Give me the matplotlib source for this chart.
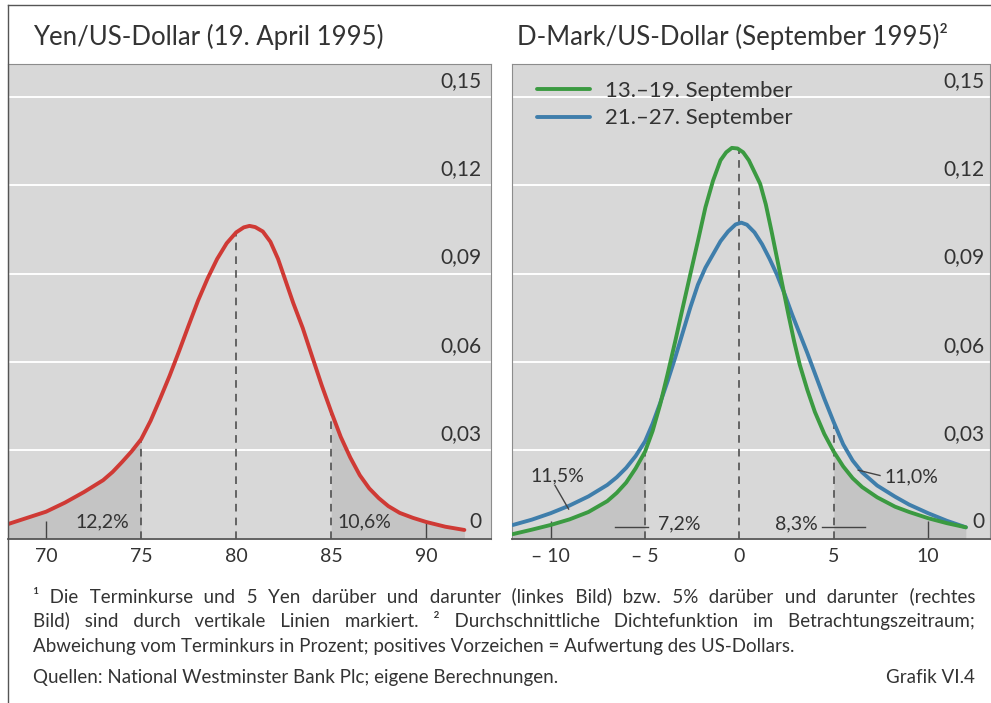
import numpy as np
import matplotlib.pyplot as plt
from matplotlib.lines import Line2D
from matplotlib.transforms import blended_transform_factory

plt.rcParams['font.family'] = ['Lato', 'DejaVu Sans']

# Yen/US-Dollar, Dichte
yen_x = np.array([68, 69, 70, 71, 72, 73, 73.5, 74, 74.5, 75, 75.5, 76, 76.5, 77, 77.5, 78,
                  78.5, 79, 79.5, 80, 80.4, 80.7, 81, 81.4, 81.8, 82.2, 82.6, 83, 83.5, 84,
                  84.5, 85, 85.5, 86, 86.5, 87, 87.5, 88, 88.6, 89.3, 90, 91, 92])
yen_d = np.array([0.0049, 0.0070, 0.0091, 0.0122, 0.0158, 0.0198, 0.0226, 0.0260, 0.0296,
                  0.0337, 0.0400, 0.0475, 0.0553, 0.0637, 0.0724, 0.0809, 0.0884, 0.0950,
                  0.1003, 0.1040, 0.1057, 0.1062, 0.1058, 0.1043, 0.1008, 0.0950, 0.0875,
                  0.0800, 0.0715, 0.0617, 0.0520, 0.0430, 0.0345, 0.0275, 0.0215, 0.0170,
                  0.0137, 0.0110, 0.0087, 0.0070, 0.0056, 0.0040, 0.0029])

# D-Mark/US-Dollar, Abweichung vom Terminkurs in %
sep1_x = np.array([-12, -11, -10, -9, -8, -7, -6.5, -6, -5.5, -5, -4.6, -4.2, -3.8, -3.4,
                   -3.0, -2.6, -2.2, -1.8, -1.4, -1.0, -0.7, -0.4, -0.1, 0.2, 0.5, 0.8,
                   1.1, 1.4, 1.7, 2.0, 2.3, 2.6, 2.9, 3.2, 3.6, 4.0, 4.5, 5.0, 5.5, 6.0,
                   6.5, 7.3, 8.25, 9, 10, 11, 12])
sep1_d = np.array([0.0015, 0.0030, 0.0046, 0.0065, 0.0090, 0.0127, 0.0155, 0.0190, 0.0238,
                   0.0295, 0.0365, 0.0455, 0.0560, 0.0670, 0.0785, 0.0898, 0.1010, 0.1125,
                   0.1215, 0.1285, 0.1312, 0.1327, 0.1325, 0.1312, 0.1285, 0.1245, 0.1205,
                   0.1135, 0.1045, 0.0950, 0.0855, 0.0760, 0.0670, 0.0590, 0.0505, 0.0430,
                   0.0355, 0.0295, 0.0245, 0.0205, 0.0175, 0.0140, 0.0108, 0.0090, 0.0069,
                   0.0052, 0.0038])
sep2_x = np.array([-12, -11, -10, -9, -8, -7, -6.5, -6, -5.5, -5, -4.6, -4.2, -3.8, -3.4,
                   -3.0, -2.6, -2.2, -1.8, -1.4, -1.0, -0.6, -0.2, 0.1, 0.4, 0.8, 1.2, 1.6,
                   2.0, 2.4, 2.8, 3.2, 3.6, 4.0, 4.5, 5.0, 5.5, 6.0, 6.5, 7.3, 8.25, 9, 10,
                   11, 12])
sep2_d = np.array([0.0046, 0.0064, 0.0086, 0.0112, 0.0143, 0.0182, 0.0208, 0.0240, 0.0280,
                   0.0330, 0.0390, 0.0460, 0.0535, 0.0615, 0.0700, 0.0785, 0.0862, 0.0920,
                   0.0965, 0.1010, 0.1043, 0.1067, 0.1073, 0.1066, 0.1040, 0.1000, 0.0950,
                   0.0895, 0.0830, 0.0760, 0.0695, 0.0630, 0.0561, 0.0475, 0.0395, 0.0320,
                   0.0265, 0.0225, 0.0180, 0.0142, 0.0115, 0.0086, 0.0060, 0.0038])

series_labels = ['13.\u201319. September', '21.\u201327. September']
y_ticks = [0, 0.03, 0.06, 0.09, 0.12, 0.15]
y_labels = ['0', '0,03', '0,06', '0,09', '0,12', '0,15']
yen_ticks = [70, 75, 80, 85, 90]
dm_ticks = [-10, -5, 0, 5, 10]
dm_ticklabels = ['\u2013 10', '\u2013 5', '0', '5', '10']
yen_marks = [75, 80, 85]
dm_marks = [-5, 0, 5]

RED = '#cf3a35'
GREEN = '#3b9a41'
BLUE = '#3f7eab'
TXT = '#333333'
BG = '#d8d8d8'
SHADE = '#c4c4c4'

W, H = 991, 703
fig = plt.figure(figsize=(W / 100, H / 100), dpi=100)


def fx(px):
    return px / W


def fy(py):
    return 1 - py / H


top, bot = 64, 538.5
ax1 = fig.add_axes([fx(8), fy(bot), (491 - 8) / W, (bot - top) / H])
ax2 = fig.add_axes([fx(512), fy(bot), (990 - 512) / W, (bot - top) / H])


def style(ax, lab_x):
    ax.set_facecolor(BG)
    ax.set_ylim(0, 0.1612)
    ax.set_yticks(y_ticks)
    ax.yaxis.grid(True, color='white', lw=1.4)
    ax.set_axisbelow(True)
    ax.tick_params(axis='y', length=0, labelleft=False)
    ax.tick_params(axis='x', length=0, pad=7, labelsize=14, labelcolor=TXT)
    for s in ax.spines.values():
        s.set_color('#8c8c8c')
        s.set_linewidth(0.8)
    ax.spines['bottom'].set_color('#555555')
    ax.spines['bottom'].set_linewidth(1.3)
    tr = blended_transform_factory(ax.transAxes, ax.transData)
    for v, lab in zip(y_ticks, y_labels):
        ax.text(lab_x, v + 0.0055, lab, transform=tr, ha='right', va='center',
                fontsize=15, color=TXT)


# linkes Bild
style(ax1, 0.981)
ax1.set_xlim(68, 93.4)
ax1.set_xticks(yen_ticks)
ax1.fill_between(yen_x, 0, yen_d, where=yen_x <= 75, color=SHADE, lw=0, zorder=1)
ax1.fill_between(yen_x, 0, yen_d, where=yen_x >= 85, color=SHADE, lw=0, zorder=1)
ax1.vlines(yen_marks, 0, np.interp(yen_marks, yen_x, yen_d), colors='#444444', lw=1.1,
           linestyles=(0, (5, 4)), zorder=2)
ax1.vlines([70, 90], 0, 0.006, colors='#444444', lw=1.0, zorder=2)
ax1.plot(yen_x, yen_d, color=RED, lw=2.8, solid_capstyle='round', solid_joinstyle='round',
         zorder=3)
ax1.text(74.4, 0.0056, '12,2%', ha='right', va='center', fontsize=14, color=TXT)
ax1.text(85.3, 0.0056, '10,6%', ha='left', va='center', fontsize=14, color=TXT)

# rechtes Bild
style(ax2, 0.9895)
ax2.set_xlim(-12.05, 13.28)
ax2.set_xticks(dm_ticks)
ax2.set_xticklabels(dm_ticklabels)
ax2.fill_between(sep1_x, 0, sep1_d, where=sep1_x <= -5, color=SHADE, lw=0, zorder=1)
ax2.fill_between(sep1_x, 0, sep1_d, where=sep1_x >= 5, color=SHADE, lw=0, zorder=1)
tops = np.maximum(np.interp(dm_marks, sep1_x, sep1_d), np.interp(dm_marks, sep2_x, sep2_d))
ax2.vlines(dm_marks, 0, tops, colors='#444444', lw=1.1, linestyles=(0, (5, 4)), zorder=2)
ax2.vlines([-10, 10], 0, 0.006, colors='#444444', lw=1.0, zorder=2)
l1, = ax2.plot(sep1_x, sep1_d, color=GREEN, lw=2.8, solid_capstyle='round',
               solid_joinstyle='round', zorder=4)
l2, = ax2.plot(sep2_x, sep2_d, color=BLUE, lw=2.8, solid_capstyle='round',
               solid_joinstyle='round', zorder=3)

ax2.text(-9.66, 0.0212, '11,5%', ha='center', va='center', fontsize=14, color=TXT)
ax2.plot([-9.77, -9.05], [0.0180, 0.0100], color='#444444', lw=1.0, zorder=5)
ax2.plot([-6.6, -4.85], [0.004, 0.004], color='#444444', lw=1.0, zorder=5)
ax2.text(-4.3, 0.0050, '7,2%', ha='left', va='center', fontsize=14, color=TXT)
ax2.plot([4.37, 6.66], [0.004, 0.004], color='#444444', lw=1.0, zorder=5)
ax2.text(4.15, 0.0050, '8,3%', ha='right', va='center', fontsize=14, color=TXT)
ax2.plot([6.3, 7.45], [0.0232, 0.0214], color='#444444', lw=1.0, zorder=5)
ax2.text(7.7, 0.0210, '11,0%', ha='left', va='center', fontsize=14, color=TXT)

ax2.legend([l1, l2], series_labels, loc='upper left', bbox_to_anchor=(0.052, 0.9642),
           frameon=False, fontsize=16, handlelength=2.4, handletextpad=0.68,
           labelspacing=0.33, borderpad=0, borderaxespad=0, labelcolor=TXT)

# Titel
fig.text(fx(33), fy(45), 'Yen/US-Dollar (19. April 1995)', fontsize=18.5, color=TXT,
         va='baseline')
fig.text(fx(517), fy(45), 'D-Mark/US-Dollar (September 1995)\u00b2', fontsize=18.5,
         color=TXT, va='baseline')

# Rahmen
fig.add_artist(Line2D([fx(8), fx(8)], [0, fy(5)], color='#555555', lw=1.0))
fig.add_artist(Line2D([fx(8), 1], [fy(5), fy(5)], color='#555555', lw=1.0))

# Fussnoten (die ersten beiden Zeilen im Blocksatz, mit schmalen Leerzeichen gestreckt)
notes = [
    '\u00b9 Die Terminkurse und 5 Yen darüber und darunter (linkes Bild) bzw. 5% darüber und darunter (rechtes',
    'Bild) sind durch vertikale Linien markiert. \u00b2 Durchschnittliche Dichtefunktion im Betrachtungszeitraum;',
    'Abweichung vom Terminkurs in Prozent; positives Vorzeichen = Aufwertung des US-Dollars.',
]
note_fs = 13.5
renderer = fig.canvas.get_renderer()
THIN = '\u200a'
probe = fig.text(0, 0, 'x' + THIN * 20 + 'x', fontsize=note_fs)
probe0 = fig.text(0, 0, 'xx', fontsize=note_fs)
thin_w = (probe.get_window_extent(renderer).width
          - probe0.get_window_extent(renderer).width) / 20
probe.remove()
probe0.remove()
for i, line in enumerate(notes):
    y = fy(602 + 25 * i)
    t = fig.text(fx(33), y, line, fontsize=note_fs, color=TXT, va='baseline')
    if i < 2:
        words = line.split(' ')
        extra = 942 - t.get_window_extent(renderer).width
        n = extra / thin_w / (len(words) - 1)
        out, acc = words[0], 0.0
        for w in words[1:]:
            acc += n
            k = int(round(acc))
            acc -= k
            out += ' ' + THIN * k + w
        t.set_text(out)
fig.text(fx(33), fy(683), 'Quellen: National Westminster Bank Plc; eigene Berechnungen.',
         fontsize=note_fs, color=TXT, va='baseline')
fig.text(fx(975), fy(683), 'Grafik VI.4', fontsize=note_fs, color=TXT, va='baseline',
         ha='right')

fig.savefig('out.png', dpi=100, facecolor='white')
